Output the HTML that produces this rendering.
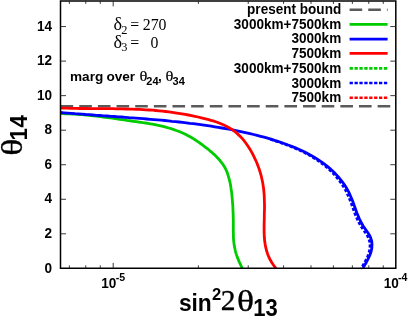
<!DOCTYPE html>
<html>
<head>
<meta charset="utf-8">
<style>
html,body{margin:0;padding:0;background:#fff;}
body{width:409px;height:316px;overflow:hidden;}
svg{display:block;will-change:transform;}
text{font-family:"Liberation Sans",sans-serif;fill:#000;}
.s{font-family:"Liberation Serif",serif;font-weight:normal;}
</style>
</head>
<body>
<svg width="409" height="316" viewBox="0 0 409 316">
<rect x="0" y="0" width="409" height="316" fill="#fff"/>

<!-- curves -->
<g fill="none" stroke-width="2.8" stroke-linejoin="round" stroke-linecap="butt">
<path d="M60.6,106.2 H396" stroke="#5a5a5a" stroke-width="2.5" stroke-dasharray="12.6 6.05"/>
<path d="M60.5,113.7 L62.9,113.7 L65.3,113.8 L67.7,113.8 L70.1,113.9 L72.4,114.0 L74.8,114.2 L77.2,114.3 L79.6,114.5 L81.9,114.7 L84.3,114.9 L86.6,115.1 L89.0,115.3 L91.4,115.6 L93.7,115.8 L96.1,116.1 L98.4,116.4 L100.8,116.7 L103.1,117.0 L105.5,117.3 L107.8,117.6 L110.2,117.9 L112.5,118.2 L114.9,118.6 L117.2,118.9 L119.6,119.3 L121.9,119.6 L124.3,119.9 L126.6,120.3 L129.0,120.6 L131.3,121.0 L133.7,121.3 L136.1,121.6 L138.4,122.0 L140.8,122.3 L143.1,122.7 L145.5,123.0 L147.8,123.4 L150.2,123.8 L152.5,124.2 L154.8,124.7 L157.2,125.2 L159.5,125.7 L161.8,126.2 L164.1,126.7 L166.4,127.3 L168.7,128.0 L171.0,128.7 L173.2,129.4 L175.5,130.2 L177.7,131.0 L179.9,131.8 L182.1,132.8 L184.3,133.7 L186.4,134.8 L188.5,135.9 L190.6,137.0 L192.6,138.2 L194.6,139.5 L196.6,140.8 L198.6,142.1 L200.5,143.5 L202.4,144.9 L204.3,146.3 L206.2,147.8 L208.1,149.2 L209.9,150.8 L211.8,152.3 L213.5,153.9 L215.3,155.5 L217.0,157.2 L218.6,159.0 L220.2,160.8 L221.6,162.6 L223.0,164.5 L224.3,166.5 L225.4,168.5 L226.4,170.7 L227.3,172.8 L228.0,175.1 L228.7,177.3 L229.3,179.6 L229.9,182.0 L230.4,184.3 L230.8,186.7 L231.1,189.0 L231.5,191.4 L231.8,193.8 L232.0,196.2 L232.2,198.6 L232.4,200.9 L232.6,203.3 L232.8,205.7 L232.9,208.0 L233.0,210.4 L233.1,212.7 L233.2,215.1 L233.2,217.5 L233.3,219.8 L233.3,222.2 L233.3,224.6 L233.3,226.9 L233.3,229.3 L233.3,231.7 L233.4,234.1 L233.4,236.5 L233.5,238.8 L233.7,241.2 L234.0,243.6 L234.3,245.9 L234.8,248.2 L235.3,250.5 L235.9,252.8 L236.6,255.1 L237.4,257.4 L238.3,259.6 L239.2,261.8 L240.2,263.9 L241.2,266.1 L242.3,268.2" stroke="#00cc00"/>
<path d="M60.5,112.5 L64.1,112.8 L67.7,113.1 L71.3,113.4 L74.9,113.7 L78.4,113.9 L82.0,114.2 L85.6,114.5 L89.2,114.7 L92.8,115.0 L96.4,115.3 L100.0,115.5 L103.6,115.8 L107.2,116.0 L110.8,116.3 L114.4,116.5 L118.0,116.8 L121.6,117.0 L125.2,117.3 L128.8,117.6 L132.4,117.8 L136.0,118.1 L139.6,118.4 L143.2,118.7 L146.8,119.0 L150.4,119.3 L154.0,119.6 L157.6,119.9 L161.2,120.2 L164.8,120.5 L168.3,120.9 L171.9,121.3 L175.5,121.6 L179.1,122.0 L182.7,122.4 L186.3,122.8 L189.8,123.3 L193.4,123.7 L197.0,124.2 L200.6,124.7 L204.1,125.2 L207.7,125.7 L211.2,126.2 L214.8,126.8 L218.4,127.4 L221.9,128.0 L225.4,128.6 L229.0,129.2 L232.5,129.9 L236.1,130.6 L239.6,131.3 L243.1,132.1 L246.6,132.9 L250.1,133.7 L253.6,134.5 L257.1,135.4 L260.6,136.3 L264.1,137.2 L267.6,138.2 L271.0,139.2 L274.5,140.3 L277.9,141.4 L281.3,142.5 L284.8,143.7 L288.2,145.0 L291.6,146.2 L294.9,147.6 L298.2,149.0 L301.5,150.5 L304.8,152.1 L308.0,153.7 L311.1,155.4 L314.2,157.2 L317.3,159.1 L320.3,161.1 L323.2,163.1 L326.1,165.3 L328.9,167.6 L331.6,170.0 L334.2,172.5 L336.7,175.1 L339.1,177.8 L341.4,180.6 L343.6,183.5 L345.6,186.5 L347.4,189.6 L349.1,192.7 L350.5,196.0 L351.9,199.3 L353.2,202.6 L354.4,206.0 L355.6,209.3 L356.8,212.7 L358.2,216.0 L359.6,219.3 L361.2,222.5 L363.0,225.7 L365.1,228.7 L367.2,231.7 L369.2,234.7 L370.7,237.9 L371.7,241.2 L372.0,244.7 L371.8,248.3 L371.0,251.9 L369.7,255.5 L368.1,258.9 L366.4,262.2 L364.6,265.3 L362.9,268.1" stroke="#0000ff"/>
<path d="M60.5,108.0 L63.8,108.1 L67.1,108.2 L70.4,108.3 L73.6,108.4 L76.9,108.4 L80.2,108.5 L83.5,108.5 L86.8,108.5 L90.1,108.6 L93.4,108.6 L96.7,108.6 L100.0,108.6 L103.3,108.6 L106.6,108.7 L109.9,108.7 L113.1,108.7 L116.4,108.8 L119.7,108.8 L123.0,108.9 L126.3,109.0 L129.6,109.1 L132.9,109.2 L136.2,109.3 L139.5,109.4 L142.7,109.6 L146.0,109.8 L149.3,110.0 L152.6,110.2 L155.8,110.5 L159.1,110.8 L162.4,111.1 L165.6,111.5 L168.9,111.9 L172.1,112.3 L175.4,112.8 L178.6,113.3 L181.9,113.8 L185.1,114.4 L188.4,115.0 L191.6,115.6 L194.8,116.3 L198.1,117.0 L201.3,117.8 L204.5,118.6 L207.8,119.4 L210.9,120.3 L214.1,121.2 L217.2,122.3 L220.3,123.5 L223.3,124.7 L226.3,126.2 L229.1,127.7 L231.9,129.4 L234.5,131.3 L237.0,133.4 L239.4,135.6 L241.7,137.9 L243.8,140.4 L245.8,143.0 L247.7,145.7 L249.5,148.5 L251.2,151.4 L252.8,154.3 L254.3,157.3 L255.7,160.3 L257.0,163.3 L258.2,166.4 L259.3,169.5 L260.3,172.6 L261.2,175.8 L261.9,179.0 L262.6,182.2 L263.1,185.4 L263.6,188.6 L263.9,191.9 L264.2,195.1 L264.3,198.4 L264.4,201.7 L264.5,205.0 L264.5,208.3 L264.4,211.6 L264.3,214.9 L264.3,218.2 L264.2,221.5 L264.1,224.8 L264.1,228.2 L264.1,231.5 L264.2,234.8 L264.4,238.0 L264.7,241.3 L265.2,244.5 L265.8,247.7 L266.6,250.8 L267.6,253.9 L268.8,256.9 L270.2,259.8 L271.9,262.7 L273.8,265.5 L276.0,268.3" stroke="#ff0000"/>
<path d="M270.4,139.4 L273.9,140.5 L277.3,141.6 L280.7,142.8 L284.1,144.0 L287.5,145.2 L290.8,146.5 L294.1,147.9 L297.4,149.3 L300.7,150.8 L303.9,152.4 L307.0,154.0 L310.1,155.7 L313.2,157.6 L316.2,159.5 L319.1,161.5 L322.0,163.6 L324.8,165.8 L327.6,168.1 L330.2,170.5 L332.8,173.0 L335.2,175.6 L337.5,178.4 L339.7,181.2 L341.8,184.1 L343.7,187.1 L345.5,190.2 L347.1,193.4 L348.5,196.7 L349.9,200.0 L351.2,203.3 L352.4,206.7 L353.6,210.0 L354.8,213.4 L356.2,216.7 L357.6,220.0 L359.2,223.2 L361.0,226.4 L363.1,229.4 L365.2,232.4 L367.2,235.4 L368.7,238.6 L369.7,241.9 L370.0,245.4 L369.8,249.0 L369.0,252.6 L367.7,256.2 L366.1,259.6 L364.4,262.9 L362.6,266.0 L360.9,268.8" stroke="#0000ff" stroke-width="2.6" stroke-dasharray="3.2 1.9"/>
</g>

<!-- axes frame -->
<path d="M60.5,0.9 H395.8 V268.35 H60.5 Z" stroke="#000" stroke-width="1.5" fill="none"/>
<path d="M69.36,268.35 v-3.0 M69.36,0.90 v3.0 M85.77,268.35 v-3.0 M85.77,0.90 v3.0 M100.25,268.35 v-3.0 M100.25,0.90 v3.0 M113.20,268.35 v-5.5 M113.20,0.90 v5.5 M198.39,268.35 v-3.0 M198.39,0.90 v3.0 M248.23,268.35 v-3.0 M248.23,0.90 v3.0 M283.58,268.35 v-3.0 M283.58,0.90 v3.0 M311.01,268.35 v-3.0 M311.01,0.90 v3.0 M333.42,268.35 v-3.0 M333.42,0.90 v3.0 M352.36,268.35 v-3.0 M352.36,0.90 v3.0 M368.77,268.35 v-3.0 M368.77,0.90 v3.0 M383.25,268.35 v-3.0 M383.25,0.90 v3.0 M60.50,233.81 h5.5 M395.80,233.81 h-5.5 M60.50,199.27 h5.5 M395.80,199.27 h-5.5 M60.50,164.73 h5.5 M395.80,164.73 h-5.5 M60.50,130.19 h5.5 M395.80,130.19 h-5.5 M60.50,95.65 h5.5 M395.80,95.65 h-5.5 M60.50,61.11 h5.5 M395.80,61.11 h-5.5 M60.50,26.57 h5.5 M395.80,26.57 h-5.5 " stroke="#222" stroke-width="0.9" fill="none"/>

<!-- legend -->
<g fill="none" stroke-width="2.6">
<path d="M349.6,9.7 H387.6" stroke="#5a5a5a" stroke-width="2.5" stroke-dasharray="12.6 6.05"/>
<path d="M349.6,24.4 H387.6" stroke="#00cc00"/>
<path d="M349.6,39.1 H387.6" stroke="#0000ff"/>
<path d="M349.6,53.4 H387.6" stroke="#ff0000"/>
<path d="M349.6,68.4 H387.6" stroke="#00cc00" stroke-dasharray="3.3 1.6"/>
<path d="M349.6,83.0 H387.6" stroke="#0000ff" stroke-dasharray="3.3 1.6"/>
<path d="M349.6,97.7 H387.6" stroke="#ff0000" stroke-dasharray="3.3 1.6"/>
</g>
<g font-size="14.2" text-anchor="end" font-weight="bold" transform="translate(341.2,0) scale(0.955,1)">
<text x="0" y="13.9">present bound</text>
<text x="0" y="28.7">3000km+7500km</text>
<text x="0" y="43.4">3000km</text>
<text x="0" y="58.1">7500km</text>
<text x="0" y="73">3000km+7500km</text>
<text x="0" y="87.7">3000km</text>
<text x="0" y="102.4">7500km</text>
</g>

<!-- y tick labels -->
<g font-size="14.2" text-anchor="end" font-weight="bold" transform="translate(52,0) scale(0.955,1)">
<text x="0" y="30.8">14</text>
<text x="0" y="65.3">12</text>
<text x="0" y="99.9">10</text>
<text x="0" y="134.4">8</text>
<text x="0" y="168.9">6</text>
<text x="0" y="203.5">4</text>
<text x="0" y="238.0">2</text>
<text x="0" y="272.6">0</text>
</g>

<!-- x tick labels -->
<g font-size="14.2" font-weight="bold">
<text transform="translate(101.2,287.7) scale(0.955,1)">10</text>
<text x="115.8" y="281.3" font-size="10.6">-5</text>
<text transform="translate(383.7,287.7) scale(0.955,1)">10</text>
<text x="398.0" y="281.3" font-size="10.6">-4</text>
</g>

<!-- annotations -->
<g class="s" font-size="15.8">
<text x="113.4" y="30.3" class="s" font-size="18.2">δ</text>
<text x="121.2" y="33.8" class="s" font-size="12.4">2</text>
<text x="130.3" y="30.3" class="s">=</text>
<text x="142.8" y="30.3" class="s">270</text>
<text x="113.4" y="47.9" class="s" font-size="18.2">δ</text>
<text x="121.2" y="51.4" class="s" font-size="12.4">3</text>
<text x="130.3" y="47.9" class="s">=</text>
<text x="150.6" y="47.9" class="s">0</text>
</g>
<g font-size="13.6" font-weight="bold">
<text x="70" y="80.9">marg</text>
<text x="106.4" y="80.9">over</text>
<text transform="translate(139.6,81.4) scale(1.1,1)" class="s" font-size="15" stroke="#000" stroke-width="0.2">θ</text>
<text x="146.3" y="85" font-size="11">24</text>
<text x="158" y="80.9">,</text>
<text transform="translate(165.4,81.4) scale(1.1,1)" class="s" font-size="15" stroke="#000" stroke-width="0.2">θ</text>
<text x="172.6" y="85" font-size="11">34</text>
</g>
<!-- axis labels -->
<g font-weight="bold">
<text transform="translate(178.9,310.7) scale(0.96,1)" font-size="23.7">sin</text>
<text x="212" y="299.6" font-size="16.6">2</text>
<text x="220.7" y="310.2" font-size="29.6" class="s" stroke="#000" stroke-width="0.35">2</text>
<text transform="translate(236.9,310.8) scale(1.2,1)" font-size="29.6" class="s" stroke="#000" stroke-width="0.35">θ</text>
<text transform="translate(253.2,316) scale(0.945,1)" font-size="23.3">13</text>
</g>
<g transform="translate(21.7,153.8) rotate(-90)" font-weight="bold">
<text transform="translate(-2,0.6) scale(1.2,1)" font-size="29.6" class="s" stroke="#000" stroke-width="0.35">θ</text>
<text transform="translate(13.4,4.9) scale(0.96,1)" font-size="23.3" letter-spacing="0.4">14</text>
</g>
</svg>
</body>
</html>
